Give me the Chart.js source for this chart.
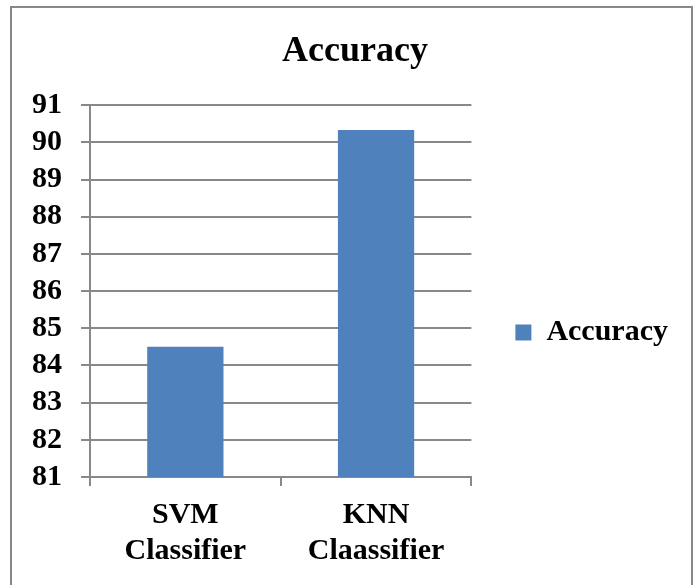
<!DOCTYPE html>
<html>
<head>
<meta charset="utf-8">
<script src="https://cdn.jsdelivr.net/npm/chart.js@4"></script>
<style>
    body { margin: 0; background: #fff; }
    #wrap { width: 700px; height: 585px; }
</style>
</head>
<body>
<div id="wrap"><canvas id="grafico"></canvas></div>
<script>
const categorias = [["SVM", "Classifier"], ["KNN", "Claassifier"]];
const valores = [84.5, 90.33];
const nomeSerie = "Accuracy";
const titulo = "Accuracy";
const eixoMin = 81;
const eixoMax = 91;

const corBarra = "#4f81bd";
const corGrade = "#888888";
const fonte = "'Liberation Serif', 'Times New Roman', serif";

// moldura cinza em volta do gráfico
const moldura = {
    id: "moldura",
    beforeDraw(chart) {
        const ctx = chart.ctx;
        ctx.save();
        ctx.fillStyle = "#fff";
        ctx.fillRect(0, 0, chart.width, chart.height);
        ctx.strokeStyle = corGrade;
        ctx.lineWidth = 2;
        ctx.strokeRect(11, 7, 681, 600);
        ctx.restore();
    }
};

const ctx = document.getElementById("grafico").getContext("2d");

new Chart(ctx, {
    type: "bar",
    data: {
        labels: categorias,
        datasets: [{
            label: nomeSerie,
            data: valores,
            backgroundColor: corBarra,
            borderWidth: 0,
            barPercentage: 0.4,
            categoryPercentage: 1
        }]
    },
    options: {
        responsive: true,
        maintainAspectRatio: false,
        animation: false,
        layout: {
            padding: { left: 32, right: 22, top: 0, bottom: 5 }
        },
        plugins: {
            title: {
                display: true,
                text: titulo,
                color: "#000",
                font: { family: fonte, size: 36, weight: "bold", lineHeight: 1.2 },
                padding: { top: 30, bottom: 32 }
            },
            legend: {
                position: "right",
                maxWidth: 400,
                title: {
                    display: true,
                    text: " ",
                    font: { size: 10 },
                    padding: { top: 73, bottom: 0 }
                },
                labels: {
                    color: "#000",
                    boxWidth: 16,
                    boxHeight: 16,
                    padding: 44,
                    font: { family: fonte, size: 30, weight: "bold" }
                }
            },
            tooltip: { enabled: false }
        },
        scales: {
            y: {
                min: eixoMin,
                max: eixoMax,
                afterFit(escala) {
                    escala.width = 58;
                },
                ticks: {
                    stepSize: 1,
                    autoSkip: false,
                    color: "#000",
                    padding: 19,
                    font: { family: fonte, size: 30, weight: "bold" }
                },
                grid: {
                    color: corGrade,
                    lineWidth: 2,
                    tickLength: 9
                },
                border: { color: corGrade, width: 2 }
            },
            x: {
                ticks: {
                    color: "#000",
                    padding: 11,
                    autoSkip: false,
                    maxRotation: 0,
                    font: { family: fonte, size: 30, weight: "bold", lineHeight: 1.2 }
                },
                grid: {
                    color: corGrade,
                    lineWidth: 2,
                    offset: true,
                    drawOnChartArea: false,
                    tickLength: 9
                },
                border: { color: corGrade, width: 2 }
            }
        }
    },
    plugins: [moldura]
});
</script>
</body>
</html>
